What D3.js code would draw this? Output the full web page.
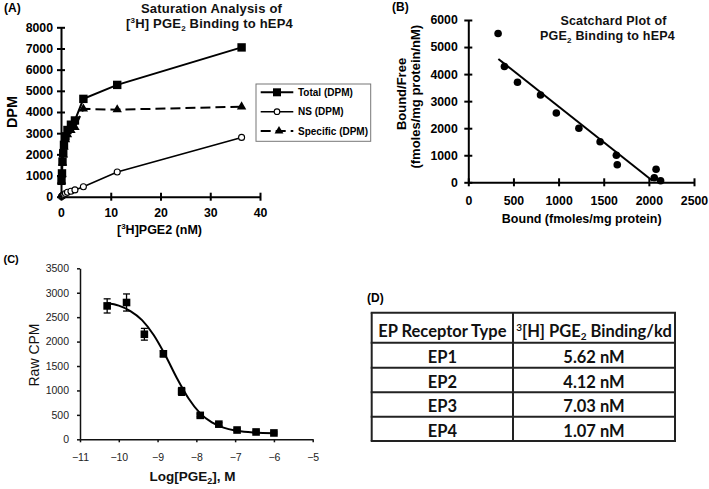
<!DOCTYPE html>
<html><head><meta charset="utf-8">
<script src="https://cdn.jsdelivr.net/npm/d3@7"></script>
<style>
body{margin:0;background:#fff}
svg{display:block}
text{font-family:"Liberation Sans",Arial,sans-serif}
text.tbl{font-family:"Lato","Open Sans",sans-serif}
</style>
</head><body>
<svg id="c" width="709" height="489"></svg>
<script>
// ---------- Panel A: saturation analysis ----------
const concA = [0.1, 0.2, 0.3, 0.45, 0.6, 0.9, 1.3, 2.0, 2.8, 4.5, 11.3, 36.3];
const totalDPM = [750, 1100, 1650, 2050, 2450, 2850, 3150, 3400, 3600, 4620, 5280, 7050];
const nsDPM = [10, 30, 50, 70, 100, 150, 210, 260, 320, 470, 1170, 2800];
const specificDPM = [740, 1070, 1600, 1980, 2350, 2700, 2940, 3140, 3280, 4150, 4110, 4250];
const yTicksA = [0, 1000, 2000, 3000, 4000, 5000, 6000, 7000, 8000];
const xTicksA = [0, 10, 20, 30, 40];
const legendA = ["Total (DPM)", "NS (DPM)", "Specific (DPM)"];

// ---------- Panel B: Scatchard plot ----------
const boundB = [330, 400, 545, 800, 975, 1225, 1460, 1640, 1650, 2060, 2080, 2130];
const ratioB = [5500, 4280, 3700, 3230, 2560, 2000, 1500, 1000, 650, 170, 480, 60];
const fitBoundB = [333, 2040];
const fitRatioB = [4560, 60];
const yTicksB = [0, 1000, 2000, 3000, 4000, 5000, 6000];
const xTicksB = [0, 500, 1000, 1500, 2000, 2500];

// ---------- Panel C: competition curve ----------
const logC = [-10.3, -9.8, -9.34, -8.85, -8.38, -7.9, -7.42, -6.95, -6.46, -6.0];
const cpmC = [2730, 2800, 2150, 1750, 980, 490, 310, 190, 150, 130];
const errC = [145, 175, 120, 60, 80, 30, 30, 20, 20, 20];
const curveLogC = [-10.3, -10.0, -9.7, -9.4, -9.1, -8.8, -8.5, -8.2, -7.9, -7.6, -7.3, -7.0, -6.6, -6.0];
const curveCpmC = [2790, 2735, 2625, 2440, 2135, 1720, 1250, 835, 530, 345, 240, 180, 145, 125];
const yTicksC = [0, 500, 1000, 1500, 2000, 2500, 3000, 3500];
const xTicksC = [-11, -10, -9, -8, -7, -6, -5];

// ---------- Panel D: table ----------
const receptorTypes = ["EP1", "EP2", "EP3", "EP4"];
const kdValues = [5.62, 4.12, 7.03, 1.07];

const svg = d3.select("#c");

function styleAxis(g, w, color) {
  g.selectAll(".domain").attr("stroke", color).attr("stroke-width", w);
  g.selectAll(".tick line").attr("stroke", color).attr("stroke-width", w);
}

// ================= Panel A =================
const xA = d3.scaleLinear().domain([0, 40]).range([61, 260]);
const yA = d3.scaleLinear().domain([0, 8000]).range([196.7, 27.3]);
const gA = svg.append("g");

const ayA = gA.append("g").attr("transform", `translate(${xA(0)},0)`)
  .call(d3.axisLeft(yA).tickValues(yTicksA).tickSize(4).tickSizeOuter(0).tickPadding(4).tickFormat(d3.format("d")));
ayA.selectAll(".tick line").attr("x1", 4);
const axA = gA.append("g").attr("transform", `translate(0,${yA(0)})`)
  .call(d3.axisBottom(xA).tickValues(xTicksA).tickSize(4).tickSizeOuter(0).tickPadding(7.5));
axA.selectAll(".tick line").attr("y1", -4);
[ayA, axA].forEach(g => {
  styleAxis(g, 2, "#000");
  g.selectAll("text").attr("font-size", 12.3).attr("font-weight", "bold").attr("fill", "#000");
});

const ptsA = concA.map((c, i) => ({c, t: totalDPM[i], n: nsDPM[i], s: specificDPM[i]}));
const lineA = key => d3.line().x(d => xA(d.c)).y(d => yA(d[key]));
gA.append("path").datum(ptsA).attr("d", lineA("n")).attr("fill", "none").attr("stroke", "#000").attr("stroke-width", 1.6);
gA.append("path").datum(ptsA).attr("d", lineA("s")).attr("fill", "none").attr("stroke", "#000").attr("stroke-width", 2).attr("stroke-dasharray", "10,5");
gA.append("path").datum(ptsA).attr("d", lineA("t")).attr("fill", "none").attr("stroke", "#000").attr("stroke-width", 2);

gA.selectAll(".ns").data(ptsA).join("circle")
  .attr("cx", d => xA(d.c)).attr("cy", d => yA(d.n)).attr("r", 3)
  .attr("fill", "#fff").attr("stroke", "#000").attr("stroke-width", 1.1);
gA.selectAll(".tot").data(ptsA).join("rect")
  .attr("x", d => xA(d.c) - 4.2).attr("y", d => yA(d.t) - 4.2).attr("width", 8.4).attr("height", 8.4).attr("fill", "#000");
const tri = d3.symbol(d3.symbolTriangle, 38);
gA.selectAll(".spec").data(ptsA).join("path")
  .attr("transform", d => `translate(${xA(d.c)},${yA(d.s)})`).attr("d", tri()).attr("fill", "#000");

// legend
gA.append("rect").attr("x", 256).attr("y", 84).attr("width", 114.7).attr("height", 57.3)
  .attr("fill", "#fff").attr("stroke", "#777").attr("stroke-width", 1);
const legY = [92.3, 111.7, 131];
legendA.forEach((label, i) => {
  const y = legY[i];
  gA.append("line").attr("x1", 260.7).attr("x2", 293.3).attr("y1", y).attr("y2", y)
    .attr("stroke", "#000").attr("stroke-width", i === 1 ? 1.6 : 2)
    .attr("stroke-dasharray", i === 2 ? "10,5" : null);
  if (i === 0) gA.append("rect").attr("x", 277 - 4).attr("y", y - 4).attr("width", 8).attr("height", 8).attr("fill", "#000");
  if (i === 1) gA.append("circle").attr("cx", 277).attr("cy", y).attr("r", 2.8).attr("fill", "#fff").attr("stroke", "#000").attr("stroke-width", 1.1);
  if (i === 2) gA.append("path").attr("transform", `translate(279,${y})`).attr("d", d3.symbol(d3.symbolTriangle, 34)()).attr("fill", "#000");
  gA.append("text").attr("x", 298).attr("y", y + 3.6).attr("font-size", 10).attr("font-weight", "bold").text(label);
});

// titles / labels A
gA.append("text").attr("x", 4).attr("y", 11.5).attr("font-size", 12).attr("font-weight", "bold").text("(A)");
gA.append("text").attr("x", 211.5).attr("y", 13.3).attr("text-anchor", "middle").attr("font-size", 13)
  .attr("font-weight", "bold").attr("letter-spacing", 0.2).attr("fill", "#111").text("Saturation Analysis of");
const tA2 = gA.append("text").attr("x", 209.5).attr("y", 27.7).attr("text-anchor", "middle").attr("font-size", 13)
  .attr("font-weight", "bold").attr("letter-spacing", 0.2).attr("fill", "#111");
tA2.append("tspan").text("[");
tA2.append("tspan").attr("font-size", 8).attr("dy", -5).text("3");
tA2.append("tspan").attr("dy", 5).text("H] PGE");
tA2.append("tspan").attr("font-size", 8).attr("dy", 3).text("2");
tA2.append("tspan").attr("dy", -3).text(" Binding to hEP4");

gA.append("text").attr("transform", "translate(16.5,112) rotate(-90)").attr("text-anchor", "middle")
  .attr("font-size", 14.5).attr("font-weight", "bold").text("DPM");
const tAx = gA.append("text").attr("x", 159.5).attr("y", 234).attr("text-anchor", "middle")
  .attr("font-size", 12.5).attr("font-weight", "bold");
tAx.append("tspan").text("[");
tAx.append("tspan").attr("font-size", 8).attr("dy", -5).text("3");
tAx.append("tspan").attr("dy", 5).text("H]PGE2 (nM)");

// ================= Panel B =================
const xB = d3.scaleLinear().domain([0, 2500]).range([468.3, 694]);
const yB = d3.scaleLinear().domain([0, 6000]).range([182.3, 20]);
const gB = svg.append("g");
const ayB = gB.append("g").attr("transform", `translate(${xB(0)},0)`)
  .call(d3.axisLeft(yB).tickValues(yTicksB).tickSize(4).tickSizeOuter(0).tickPadding(6.5).tickFormat(d3.format("d")));
ayB.selectAll(".tick line").attr("x1", 4);
const axB = gB.append("g").attr("transform", `translate(0,${yB(0)})`)
  .call(d3.axisBottom(xB).tickValues(xTicksB).tickSize(4).tickSizeOuter(0).tickPadding(9.5).tickFormat(d3.format("d")));
axB.selectAll(".tick line").attr("y1", -4);
[ayB, axB].forEach(g => {
  styleAxis(g, 2, "#000");
  g.selectAll("text").attr("font-size", 12.3).attr("font-weight", "bold").attr("fill", "#000");
});
gB.append("line")
  .attr("x1", xB(fitBoundB[0])).attr("y1", yB(fitRatioB[0]))
  .attr("x2", xB(fitBoundB[1])).attr("y2", yB(fitRatioB[1]))
  .attr("stroke", "#000").attr("stroke-width", 2);
gB.selectAll(".pt").data(boundB.map((b, i) => ({b, r: ratioB[i]}))).join("circle")
  .attr("cx", d => xB(d.b)).attr("cy", d => yB(d.r)).attr("r", 3.8).attr("fill", "#000");

gB.append("text").attr("x", 392).attr("y", 10.5).attr("font-size", 12).attr("font-weight", "bold").text("(B)");
gB.append("text").attr("x", 613.5).attr("y", 25).attr("text-anchor", "middle").attr("font-size", 12.5)
  .attr("font-weight", "bold").attr("letter-spacing", 0.2).attr("fill", "#111").text("Scatchard Plot of");
const tB2 = gB.append("text").attr("x", 607.5).attr("y", 40).attr("text-anchor", "middle").attr("font-size", 12.5)
  .attr("font-weight", "bold").attr("letter-spacing", 0.2).attr("fill", "#111");
tB2.append("tspan").text("PGE");
tB2.append("tspan").attr("font-size", 8).attr("dy", 3).text("2");
tB2.append("tspan").attr("dy", -3).text(" Binding to hEP4");
gB.append("text").attr("transform", "translate(405.5,94) rotate(-90)").attr("text-anchor", "middle")
  .attr("font-size", 13).attr("font-weight", "bold").text("Bound/Free");
gB.append("text").attr("transform", "translate(420,96.7) rotate(-90)").attr("text-anchor", "middle")
  .attr("font-size", 13).attr("font-weight", "bold").text("(fmoles/mg protein/nM)");
gB.append("text").attr("x", 581.7).attr("y", 222.5).attr("text-anchor", "middle")
  .attr("font-size", 12.5).attr("font-weight", "bold").text("Bound (fmoles/mg protein)");

// ================= Panel C =================
const xC = d3.scaleLinear().domain([-11, -5]).range([80, 312.7]);
const yC = d3.scaleLinear().domain([0, 3500]).range([439.3, 268.3]);
const gC = svg.append("g");
const ayC = gC.append("g").attr("transform", `translate(${xC(-11)},0)`)
  .call(d3.axisLeft(yC).tickValues(yTicksC).tickSize(3).tickSizeOuter(0).tickPadding(8).tickFormat(d3.format("d")));
const axC = gC.append("g").attr("transform", `translate(0,${yC(0)})`)
  .call(d3.axisBottom(xC).tickValues(xTicksC).tickSize(3).tickSizeOuter(0).tickPadding(11.5).tickFormat(d3.format("d")));
[ayC, axC].forEach(g => {
  styleAxis(g, 1.5, "#111");
  g.selectAll("text").attr("font-size", 10.5).attr("fill", "#222");
});
const curveC = curveLogC.map((x, i) => [xC(x), yC(curveCpmC[i])]);
gC.append("path").attr("d", d3.line().curve(d3.curveMonotoneX)(curveC))
  .attr("fill", "none").attr("stroke", "#000").attr("stroke-width", 2);
const ptsC = logC.map((x, i) => ({x, y: cpmC[i], e: errC[i]}));
const eb = gC.selectAll(".eb").data(ptsC).join("g");
eb.append("line").attr("x1", d => xC(d.x)).attr("x2", d => xC(d.x))
  .attr("y1", d => yC(d.y - d.e)).attr("y2", d => yC(d.y + d.e)).attr("stroke", "#000").attr("stroke-width", 1.3);
eb.append("line").attr("x1", d => xC(d.x) - 3.5).attr("x2", d => xC(d.x) + 3.5)
  .attr("y1", d => yC(d.y + d.e)).attr("y2", d => yC(d.y + d.e)).attr("stroke", "#000").attr("stroke-width", 1.3);
eb.append("line").attr("x1", d => xC(d.x) - 3.5).attr("x2", d => xC(d.x) + 3.5)
  .attr("y1", d => yC(d.y - d.e)).attr("y2", d => yC(d.y - d.e)).attr("stroke", "#000").attr("stroke-width", 1.3);
gC.selectAll(".sq").data(ptsC).join("rect")
  .attr("x", d => xC(d.x) - 3.8).attr("y", d => yC(d.y) - 3.8).attr("width", 7.6).attr("height", 7.6).attr("fill", "#000");

gC.append("text").attr("x", 3.5).attr("y", 263).attr("font-size", 11).attr("font-weight", "bold").text("(C)");
gC.append("text").attr("transform", "translate(38.5,355) rotate(-90)").attr("text-anchor", "middle")
  .attr("font-size", 14).attr("fill", "#111").text("Raw CPM");
const tCx = gC.append("text").attr("x", 192.5).attr("y", 480.5).attr("text-anchor", "middle")
  .attr("font-size", 13.5).attr("font-weight", "bold").attr("fill", "#111");
tCx.append("tspan").text("Log[PGE");
tCx.append("tspan").attr("font-size", 9).attr("dy", 3).text("2");
tCx.append("tspan").attr("dy", -3).text("], M");

// ================= Panel D =================
const gD = svg.append("g");
gD.append("text").attr("x", 367).attr("y", 302).attr("font-size", 12).attr("font-weight", "bold").text("(D)");
const tblX = [371.7, 513, 675];
const rowEdges = [312.7, 342.7, 367.7, 392.3, 416.7, 441];
rowEdges.forEach(y => gD.append("line").attr("x1", tblX[0] - 1).attr("x2", tblX[2] + 1).attr("y1", y).attr("y2", y)
  .attr("stroke", "#222").attr("stroke-width", 2));
tblX.forEach(x => gD.append("line").attr("x1", x).attr("x2", x).attr("y1", rowEdges[0]).attr("y2", rowEdges[5])
  .attr("stroke", "#222").attr("stroke-width", 2));
const c1 = (tblX[0] + tblX[1]) / 2, c2 = (tblX[1] + tblX[2]) / 2;
gD.append("text").attr("class", "tbl").attr("x", c1).attr("y", 336.5).attr("text-anchor", "middle")
  .attr("font-size", 16.5).attr("font-weight", "bold").attr("fill", "#111").text("EP Receptor Type");
const th2 = gD.append("text").attr("class", "tbl").attr("x", c2).attr("y", 336.5).attr("text-anchor", "middle")
  .attr("font-size", 16.5).attr("font-weight", "bold").attr("fill", "#111");
th2.append("tspan").attr("font-size", 10).attr("dy", -6).text("3");
th2.append("tspan").attr("dy", 6).text("[H] PGE");
th2.append("tspan").attr("font-size", 10).attr("dy", 3.5).text("2");
th2.append("tspan").attr("dy", -3.5).text(" Binding/kd");
receptorTypes.forEach((r, i) => {
  const base = rowEdges[i + 2] - 4.5;
  gD.append("text").attr("class", "tbl").attr("x", c1).attr("y", base).attr("text-anchor", "middle")
    .attr("font-size", 16.5).attr("font-weight", "bold").attr("fill", "#111").text(r);
  gD.append("text").attr("class", "tbl").attr("x", c2).attr("y", base).attr("text-anchor", "middle")
    .attr("font-size", 16.5).attr("font-weight", "bold").attr("fill", "#111").text(kdValues[i].toFixed(2) + " nM");
});
</script>
</body></html>
